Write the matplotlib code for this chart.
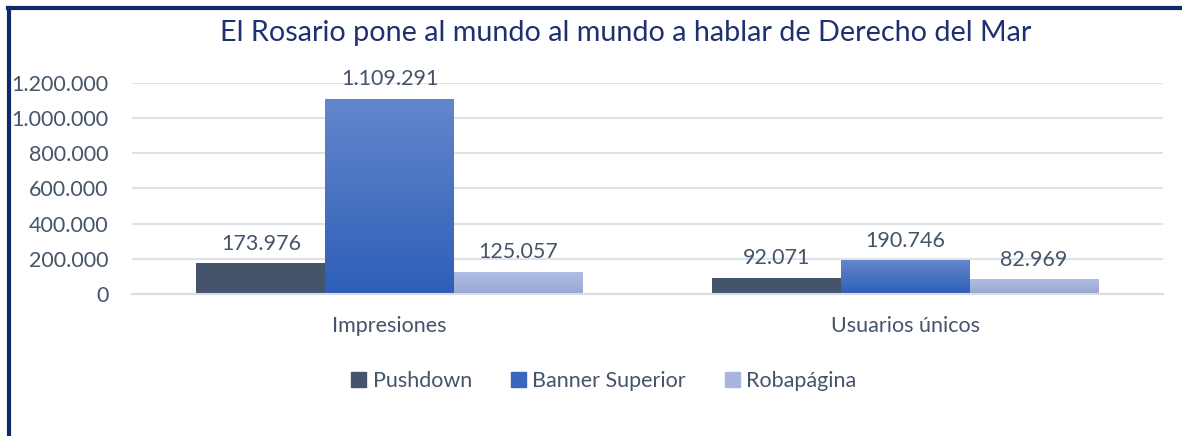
import matplotlib.pyplot as plt
import matplotlib.lines as mlines
import numpy as np
from matplotlib.colors import LinearSegmentedColormap

categories = ["Impresiones", "Usuarios únicos"]
series = ["Pushdown", "Banner Superior", "Robapágina"]
pushdown = [173976, 92071]
banner = [1109291, 190746]
robapagina = [125057, 82969]
yticks = [0, 200000, 400000, 600000, 800000, 1000000, 1200000]

TEXT = "#44546a"
plt.rcParams["font.family"] = ["Lato", "DejaVu Sans"]


def fmt(v):
    return f"{int(v):,}".replace(",", ".")


fig = plt.figure(figsize=(11.82, 4.36), dpi=100)
fig.patch.set_facecolor("white")
ax = fig.add_axes([132 / 1182, 1 - 294 / 436, (1163 - 132) / 1182, 211 / 436])

x = np.arange(len(categories))
w = 0.25
grads = [None,
         ["#2d5fb8", "#6486cc"],
         ["#98a6d6", "#afbde3"]]
solid = ["#44546a", "#3a66c0", "#a8b6df"]
for i, vals in enumerate([pushdown, banner, robapagina]):
    bars = ax.bar(x + (i - 1) * w, vals, w, color=solid[i], zorder=2, linewidth=0)
    if grads[i]:
        cmap = LinearSegmentedColormap.from_list("g", grads[i])
        for b in bars:
            bx, by = b.get_x(), b.get_y()
            bw, bh = b.get_width(), b.get_height()
            im = ax.imshow(np.linspace(0, 1, 100).reshape(-1, 1), cmap=cmap,
                           extent=[bx, bx + bw, by, by + bh], origin="lower",
                           aspect="auto", zorder=2.5)
            im.set_clip_path(b)
    for b, v in zip(bars, vals):
        ax.text(b.get_x() + b.get_width() / 2, v + 55000, fmt(v),
                ha="center", va="bottom", fontsize=15.5, color=TEXT)

ax.set_xlim(-0.5, 1.5)
ax.set_ylim(0, 1200000)
ax.set_yticks(yticks)
ax.set_yticklabels([fmt(v) for v in yticks], fontsize=15.5, color=TEXT)
ax.set_xticks(x)
ax.set_xticklabels(categories, fontsize=15.5, color=TEXT)
ax.tick_params(axis="y", length=0, pad=17)
ax.tick_params(axis="x", length=0, pad=16)
for s in ["top", "right", "left"]:
    ax.spines[s].set_visible(False)
ax.spines["bottom"].set_color("#d9dde3")
ax.spines["bottom"].set_linewidth(1.5)
ax.grid(axis="y", color="#dfe3e8", linewidth=1.5)
ax.set_axisbelow(True)

fig.text(0.529, 1 - 33 / 436, "El Rosario pone al mundo al mundo a hablar de Derecho del Mar",
         ha="center", va="center", fontsize=20.7, color="#1f3070")

handles = [plt.Rectangle((0, 0), 1, 1, color=c) for c in ["#44546a", "#3a66c0", "#a8b6df"]]
fig.legend(handles, series, loc="center", bbox_to_anchor=(604 / 1182, 1 - 381 / 436),
           ncol=3, frameon=False, fontsize=15.5, labelcolor=TEXT,
           handlelength=0.7, handleheight=0.7, handletextpad=0.3, columnspacing=1.8)

# navy frame lines on top and left
fig.add_artist(mlines.Line2D([8 / 1182, 1], [1 - 8 / 436, 1 - 8 / 436],
                             color="#0d2b6b", linewidth=3, transform=fig.transFigure))
fig.add_artist(mlines.Line2D([8.5 / 1182, 8.5 / 1182], [0, 1 - 8 / 436],
                             color="#0d2b6b", linewidth=3, transform=fig.transFigure))

fig.savefig("out.png", dpi=100, facecolor="white")
